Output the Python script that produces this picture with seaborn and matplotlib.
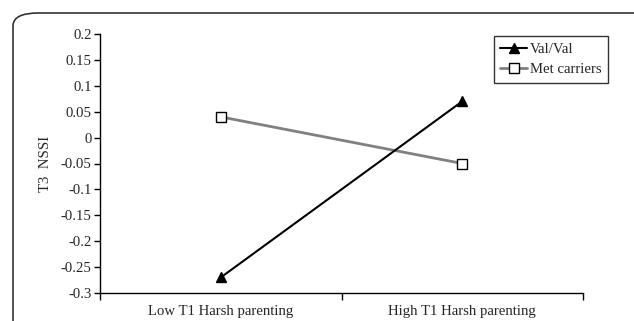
import pandas as pd
import numpy as np
import matplotlib
matplotlib.use("Agg")
import matplotlib.pyplot as plt
import seaborn as sns
from matplotlib.patches import FancyBboxPatch

# datos
categorias = ["Low T1 Harsh parenting", "High T1 Harsh parenting"]
val_val = [-0.27, 0.07]
met_carriers = [0.04, -0.05]
y_ticks = [0.2, 0.15, 0.1, 0.05, 0, -0.05, -0.1, -0.15, -0.2, -0.25, -0.3]

df = pd.DataFrame({
    "grupo": categorias * 2,
    "nssi": val_val + met_carriers,
    "serie": ["Val/Val"] * 2 + ["Met carriers"] * 2,
})

sns.set_style("ticks")
plt.rcParams["font.family"] = ["Liberation Serif", "DejaVu Serif"]
fs = 10.6

fig = plt.figure(figsize=(6.34, 3.21), dpi=100)
ax = fig.add_axes([100 / 634, 1 - 293 / 321, 483 / 634, 259 / 321])

# borde redondeado
borde = FancyBboxPatch((13 / 634, -0.2), 1.2, 1 - 13 / 321 + 0.2,
                       boxstyle="round,pad=0,rounding_size=0.04",
                       transform=fig.transFigure, fill=False,
                       edgecolor="#333333", linewidth=1.2, clip_on=False,
                       mutation_aspect=321 / 634 * 2)
fig.patches.append(borde)

x = np.arange(len(categorias))
ax.plot(x, met_carriers, color="#808080", linewidth=2, marker="s", markersize=6.5,
        markerfacecolor="white", markeredgecolor="black", markeredgewidth=1,
        label="Met carriers", zorder=3)
ax.plot(x, val_val, color="black", linewidth=1.5, marker="^", markersize=7.5,
        markerfacecolor="black", label="Val/Val", zorder=4)

ax.set_xlim(-0.5, 1.5)
ax.set_ylim(-0.3, 0.2)
ax.set_yticks(y_ticks)
ax.set_yticklabels([f"{v:g}" for v in y_ticks], fontsize=fs)
ax.set_xticks([-0.5, 0.5, 1.5])
ax.set_xticklabels([])
ax.set_xticks(x, minor=True)
ax.set_xticklabels(categorias, minor=True, fontsize=fs)
ax.tick_params(axis="x", which="minor", length=0, pad=9)
ax.tick_params(axis="x", which="major", length=5, width=1, color="black")
ax.tick_params(axis="y", length=4, width=1, color="black", pad=2)
for s in ["left", "bottom"]:
    ax.spines[s].set_color("black")
    ax.spines[s].set_linewidth(1)
sns.despine(ax=ax)
ax.set_ylabel("T3  NSSI", fontsize=fs, labelpad=6)

handles, labels = ax.get_legend_handles_labels()
leg = ax.legend(handles[::-1], labels[::-1], loc="upper right",
                bbox_to_anchor=(1.052, 0.992), fontsize=fs, frameon=True,
                fancybox=False, edgecolor="black", handlelength=1.8,
                handletextpad=0.2, borderpad=0.45, labelspacing=0.45,
                borderaxespad=0)
leg.get_frame().set_linewidth(1)

fig.savefig("out.png", dpi=100)
